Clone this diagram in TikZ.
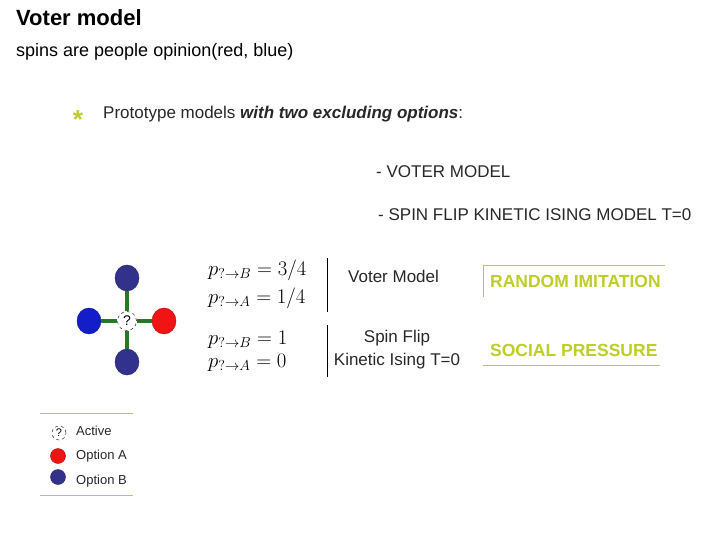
\documentclass[tikz,border=0pt]{standalone}
\usepackage{fontspec}
\setmainfont{Liberation Sans}
\definecolor{olivey}{RGB}{190,205,40}
\definecolor{navy}{RGB}{50,50,140}
\definecolor{brblue}{RGB}{20,30,200}
\definecolor{redA}{RGB}{240,20,20}
\definecolor{edgeg}{RGB}{40,120,40}
\definecolor{txt}{RGB}{40,40,40}
\tikzset{
 spin/.style={ellipse, minimum width=24pt, minimum height=26pt, inner sep=0pt, draw=#1!70!black, fill=#1},
 lbl/.style={anchor=west, inner sep=0pt, text=txt, font=\fontsize{17}{19}\selectfont},
 eq/.style={anchor=west, inner sep=0pt, font=\fontsize{20}{22}\selectfont},
 olv/.style={anchor=west, inner sep=0pt, text=olivey, font=\bfseries\fontsize{17.5}{19}\selectfont},
 leg/.style={anchor=west, inner sep=0pt, text=txt, font=\fontsize{13}{15}\selectfont},
}
\usetikzlibrary{shapes.geometric}
\begin{document}
\begin{tikzpicture}[x=1pt,y=-1pt]
\useasboundingbox[fill=white] (0,0) rectangle (720,540);
\node[anchor=west,inner sep=0pt,font=\bfseries\fontsize{22}{24}\selectfont] (title) at (16,18) {Voter model};
\node[anchor=west,inner sep=0pt,font=\fontsize{18}{20}\selectfont] (sub) at (16,52) {spins are people opinion(red, blue)};
\node[inner sep=0pt,text=olivey,font=\bfseries\fontsize{26}{26}\selectfont] (ast) at (78,120) {*};
\node[lbl] (proto) at (103,114) {Prototype models \textbf{\textit{with two excluding options}}:};
\node[lbl] (vm) at (376,172) {- VOTER MODEL};
\node[lbl] (sf) at (378,215) {- SPIN FLIP KINETIC ISING MODEL T=0};
% lattice
\node[spin=navy] (top) at (127,278) {};
\node[spin=brblue] (left) at (89,321) {};
\node[spin=redA] (right) at (164,321) {};
\node[spin=navy] (bot) at (127,362) {};
\node[circle,draw=black,dashed,fill=white,minimum size=19pt,inner sep=0pt,font=\fontsize{14}{14}\selectfont] (c) at (127,321) {?};
\foreach \n in {top,left,right,bot} \draw[edgeg,line width=4pt] (c) -- (\n);
% equations
\node[eq] (e1) at (208,270) {$p_{?\to B}=3/4$};
\node[eq] (e2) at (208,298) {$p_{?\to A}=1/4$};
\node[eq] (e3) at (208,340) {$p_{?\to B}=1$};
\node[eq] (e4) at (208,363) {$p_{?\to A}=0$};
\coordinate (v1a) at (327,258); \coordinate (v1b) at (327,312);
\coordinate (v2a) at (327,325); \coordinate (v2b) at (327,377);
\draw[line width=1pt] (v1a) -- (v1b);
\draw[line width=1pt] (v2a) -- (v2b);
\node[lbl] (vmod) at (348,276) {Voter Model};
\node[text=txt,inner sep=0pt,font=\fontsize{17}{19}\selectfont] (spf) at (397,338) {Spin Flip};
\node[text=txt,inner sep=0pt,font=\fontsize{17}{19}\selectfont] (kin) at (397,361) {Kinetic Ising T=0};
% olive boxes
\coordinate (r1) at (483,297); \coordinate (r2) at (483,265); \coordinate (r3) at (665,265);
\draw[olivey,line width=1pt] (r1) -- (r2) -- (r3);
\node[olv] (ri) at (490,281) {RANDOM IMITATION};
\node[olv] (sp) at (490,350) {SOCIAL PRESSURE};
\coordinate (s1) at (483,365); \coordinate (s2) at (660,365);
\draw[olivey,line width=1pt] (s1) -- (s2);
% legend
\coordinate (l1) at (40,413); \coordinate (l2) at (133,413);
\coordinate (l3) at (40,495); \coordinate (l4) at (133,495);
\draw[olivey,line width=0.8pt] (l1) -- (l2);
\draw[olivey,line width=0.8pt] (l3) -- (l4);
\node[circle,draw=black,dashed,minimum size=14pt,inner sep=0pt,font=\fontsize{11}{11}\selectfont] (la) at (59,433) {?};
\node[circle,fill=redA,draw=redA!70!black,minimum size=15pt,inner sep=0pt] (lb) at (58,456) {};
\node[circle,fill=navy,draw=navy!70!black,minimum size=15pt,inner sep=0pt] (lc) at (58,477) {};
\node[leg] (ta) at (76,431) {Active};
\node[leg] (tb) at (76,456) {Option A};
\node[leg] (tc) at (76,481) {Option B};
\end{tikzpicture}
\end{document}
